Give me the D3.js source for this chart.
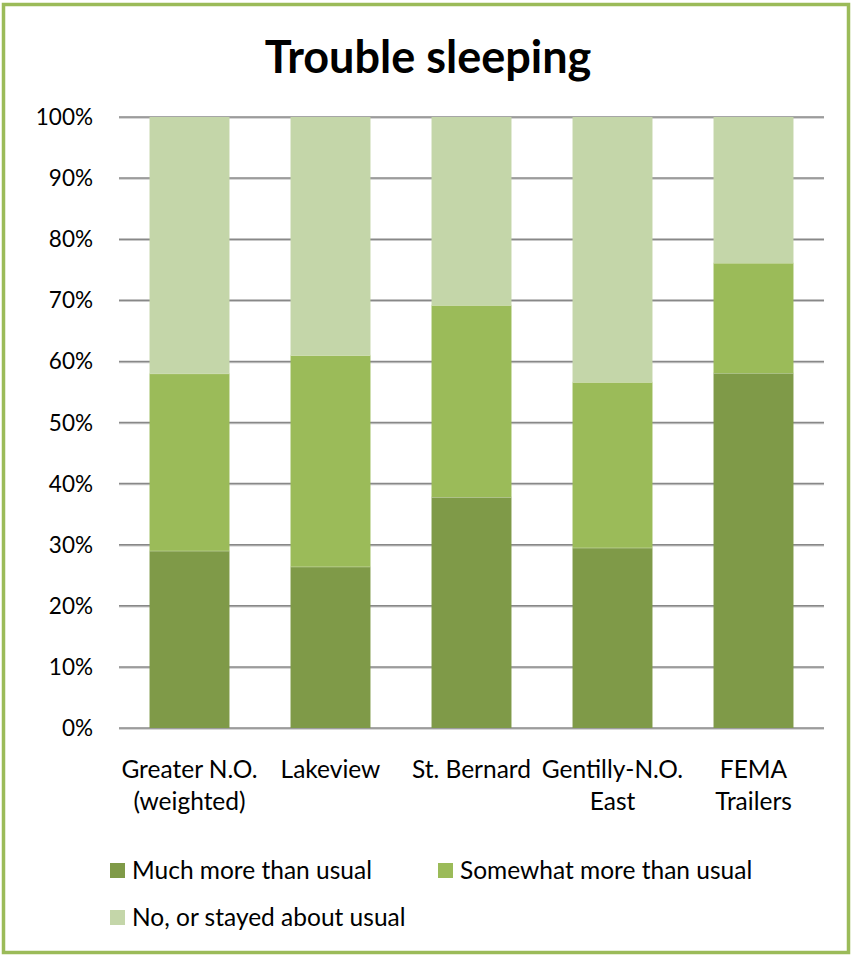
<!DOCTYPE html>
<html><head><meta charset="utf-8">
<script src="https://cdn.jsdelivr.net/npm/d3@7/dist/d3.min.js"></script>
<style>body{margin:0;background:#fff}svg{display:block}text{font-family:Lato,"Open Sans",sans-serif;fill:#000}</style>
</head><body><svg id="c" width="852" height="956"></svg>
<script>
const categories = [["Greater N.O.","(weighted)"],["Lakeview"],["St. Bernard"],["Gentilly-N.O.","East"],["FEMA","Trailers"]];
const seriesNames = ["Much more than usual","Somewhat more than usual","No, or stayed about usual"];
const much = [29.0, 26.4, 37.8, 29.5, 58.1];
const somewhat = [29.0, 34.6, 31.4, 27.1, 18.0];
const noUsual = [42.0, 39.0, 30.8, 43.4, 23.9];
const yTicks = [0,10,20,30,40,50,60,70,80,90,100];
const colors = ["#7F9A48","#9BBB59","#C4D6A9"];

const svg = d3.select("#c");
svg.append("rect").attr("x",3.5).attr("y",4.5).attr("width",845).attr("height",948)
  .attr("fill","#fff").attr("stroke","#9BBB59").attr("stroke-width",3.5);

svg.append("text").attr("x",428).attr("y",73).attr("text-anchor","middle")
  .style("font-size","45px").style("font-weight","bold").text("Trouble sleeping");

const x = d3.scaleBand().domain(d3.range(categories.length)).range([119,824]).paddingInner(0.433).paddingOuter(0.2165);
const y = d3.scaleLinear().domain([0,100]).range([728,117]);

const g = svg.append("g");
yTicks.forEach(t=>{
  g.append("line").attr("x1",119).attr("x2",824).attr("y1",y(t)+1).attr("y2",y(t)+1).attr("stroke","#c8c8c8").attr("stroke-width",1.5);
  g.append("line").attr("x1",119).attr("x2",824).attr("y1",y(t)).attr("y2",y(t)).attr("stroke","#888").attr("stroke-width",1.5);
  g.append("text").attr("x",93).attr("y",y(t)+8).attr("text-anchor","end").style("font-size","22.5px").text(t+"%");
});

const data = categories.map((c,i)=>({i, much:much[i], somewhat:somewhat[i], no:noUsual[i]}));
const stack = d3.stack().keys(["much","somewhat","no"])(data);
stack.forEach((s,k)=>{
  g.selectAll(null).data(s).enter().append("rect")
    .attr("x",d=>x(d.data.i)).attr("width",x.bandwidth())
    .attr("y",d=>y(d[1])).attr("height",d=>y(d[0])-y(d[1]))
    .attr("fill",colors[k]);
  if(k<2) g.selectAll(null).data(s).enter().append("line")
    .attr("x1",d=>x(d.data.i)).attr("x2",d=>x(d.data.i)+x.bandwidth())
    .attr("y1",d=>y(d[1])).attr("y2",d=>y(d[1])).attr("stroke","#d6e3bf").attr("stroke-width",1);
});

categories.forEach((c,i)=>{
  c.forEach((line,j)=>{
    svg.append("text").attr("x",x(i)+x.bandwidth()/2).attr("y",778+j*32).attr("text-anchor","middle")
      .style("font-size","24.5px").text(line);
  });
});

const legendPos = [[110,871],[438,871],[110,918]];
seriesNames.forEach((n,k)=>{
  const [lx,ly]=legendPos[k];
  svg.append("rect").attr("x",lx).attr("y",ly-8).attr("width",15).attr("height",15).attr("fill",colors[k]);
  svg.append("text").attr("x",lx+22).attr("y",ly+8).style("font-size","24.5px").text(n);
});
</script></body></html>
